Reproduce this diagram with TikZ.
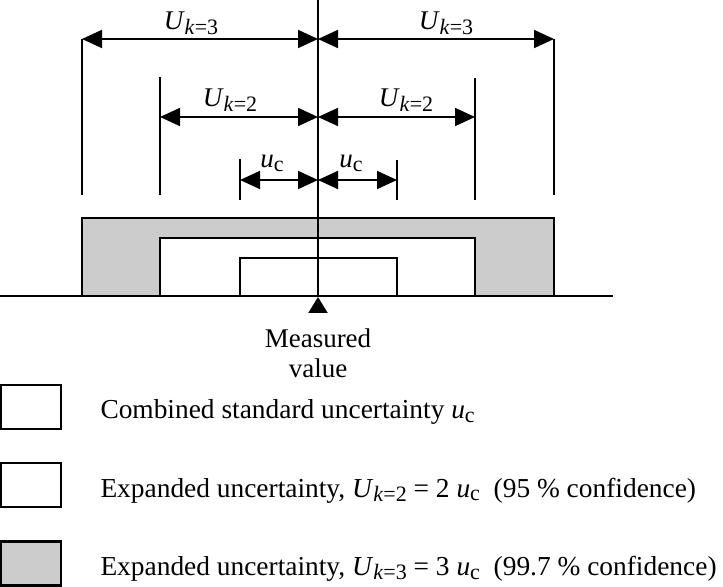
\documentclass[tikz,border=0pt]{standalone}
\usepackage{fontspec}
\setmainfont{Liberation Serif}
\usetikzlibrary{arrows.meta,positioning}
\tikzset{
  dim/.style={{Triangle[length=10pt,width=9pt]}-{Triangle[length=10pt,width=9pt]}, line width=0.9pt},
  ext/.style={line width=0.7pt},
  band/.style={draw, line width=1.1pt},
  lbl/.style={font=\fontsize{13.5}{16}\selectfont, inner sep=0pt, anchor=base},
  meastext/.style={font=\fontsize{13.5}{15}\selectfont, inner sep=0pt, align=center},
  legbox/.style={draw, line width=1.1pt, minimum width=30pt, minimum height=22pt, inner sep=0pt},
  legtext/.style={font=\fontsize{13.7}{15}\selectfont, inner sep=0pt, yshift=-2.7pt}
}
\newcommand{\Uk}[2]{\textit{U}\raisebox{-0.35ex}{\fontsize{#2}{#2}\selectfont\textit{k}=#1}}
\newcommand{\uc}[1]{\textit{u}\raisebox{-0.3ex}{\fontsize{#1}{#1}\selectfont c}}

\begin{document}
\begin{tikzpicture}[x=0.5pt, y=-0.5pt]
  \useasboundingbox (0,0) rectangle (723,587);

  % uncertainty bands
  \draw[band, fill=black!20] (82,296) rectangle (554,218);
  \draw[band, fill=white] (160,296) rectangle (475,238);
  \draw[band, fill=white] (240,296) rectangle (397,258);
  \draw[line width=1pt] (0,296) -- (613,296);

  % dimension ends
  \coordinate (top) at (318,0);
  \coordinate (base) at (318,297);
  \coordinate (c3) at (318,39);
  \coordinate (l3) at (82,39);
  \coordinate (r3) at (554,39);
  \coordinate (c2) at (318,117);
  \coordinate (l2) at (160,117);
  \coordinate (r2) at (475,117);
  \coordinate (c1) at (318,180);
  \coordinate (l1) at (240,180);
  \coordinate (r1) at (397,180);

  \draw[line width=1pt] (top) -- (318,296);

  % extension lines
  \draw[ext] (l3) -- (82,195);
  \draw[ext] (r3) -- (554,195);
  \draw[ext] (160,77) -- (160,195);
  \draw[ext] (475,78) -- (475,200);
  \draw[ext] (240,159) -- (240,200);
  \draw[ext] (397,160) -- (397,200);

  \draw[dim] (l3) -- (c3);
  \draw[dim] (c3) -- (r3);
  \draw[dim] (l2) -- (c2);
  \draw[dim] (c2) -- (r2);
  \draw[dim] (l1) -- (c1);
  \draw[dim] (c1) -- (r1);

  \node[lbl] (u3l) at (191,30) {\Uk{3}{11}};
  \node[lbl] (u3r) at (446,30) {\Uk{3}{11}};
  \node[lbl] (u2l) at (230,107) {\Uk{2}{11}};
  \node[lbl] (u2r) at (406,107) {\Uk{2}{11}};
  \node[lbl] (ucl) at (272,168) {\uc{11}};
  \node[lbl] (ucr) at (351,168) {\uc{11}};

  % measured value
  \coordinate (mtail) at (318,313);
  \node[meastext, below=7.5pt of mtail] (meas) {Measured\\value};
  \draw[-{Triangle[length=8pt,width=9.5pt]}, line width=1pt] (mtail) -- (base);

  % legend
  \node[legbox] (leg1) at (31,407) {};
  \node[legbox] (leg2) at (31,485) {};
  \node[legbox, fill=black!20] (leg3) at (31,563.5) {};
  \node[legtext, right=19pt of leg1] (txt1) {Combined standard uncertainty \uc{11}};
  \node[legtext, right=19pt of leg2] (txt2) {Expanded uncertainty, \Uk{2}{11} = 2 \uc{11}\ \ (95 \% confidence)};
  \node[legtext, right=19pt of leg3] (txt3) {Expanded uncertainty, \Uk{3}{11} = 3 \uc{11}\ \ (99.7 \% confidence)};
\end{tikzpicture}
\end{document}
